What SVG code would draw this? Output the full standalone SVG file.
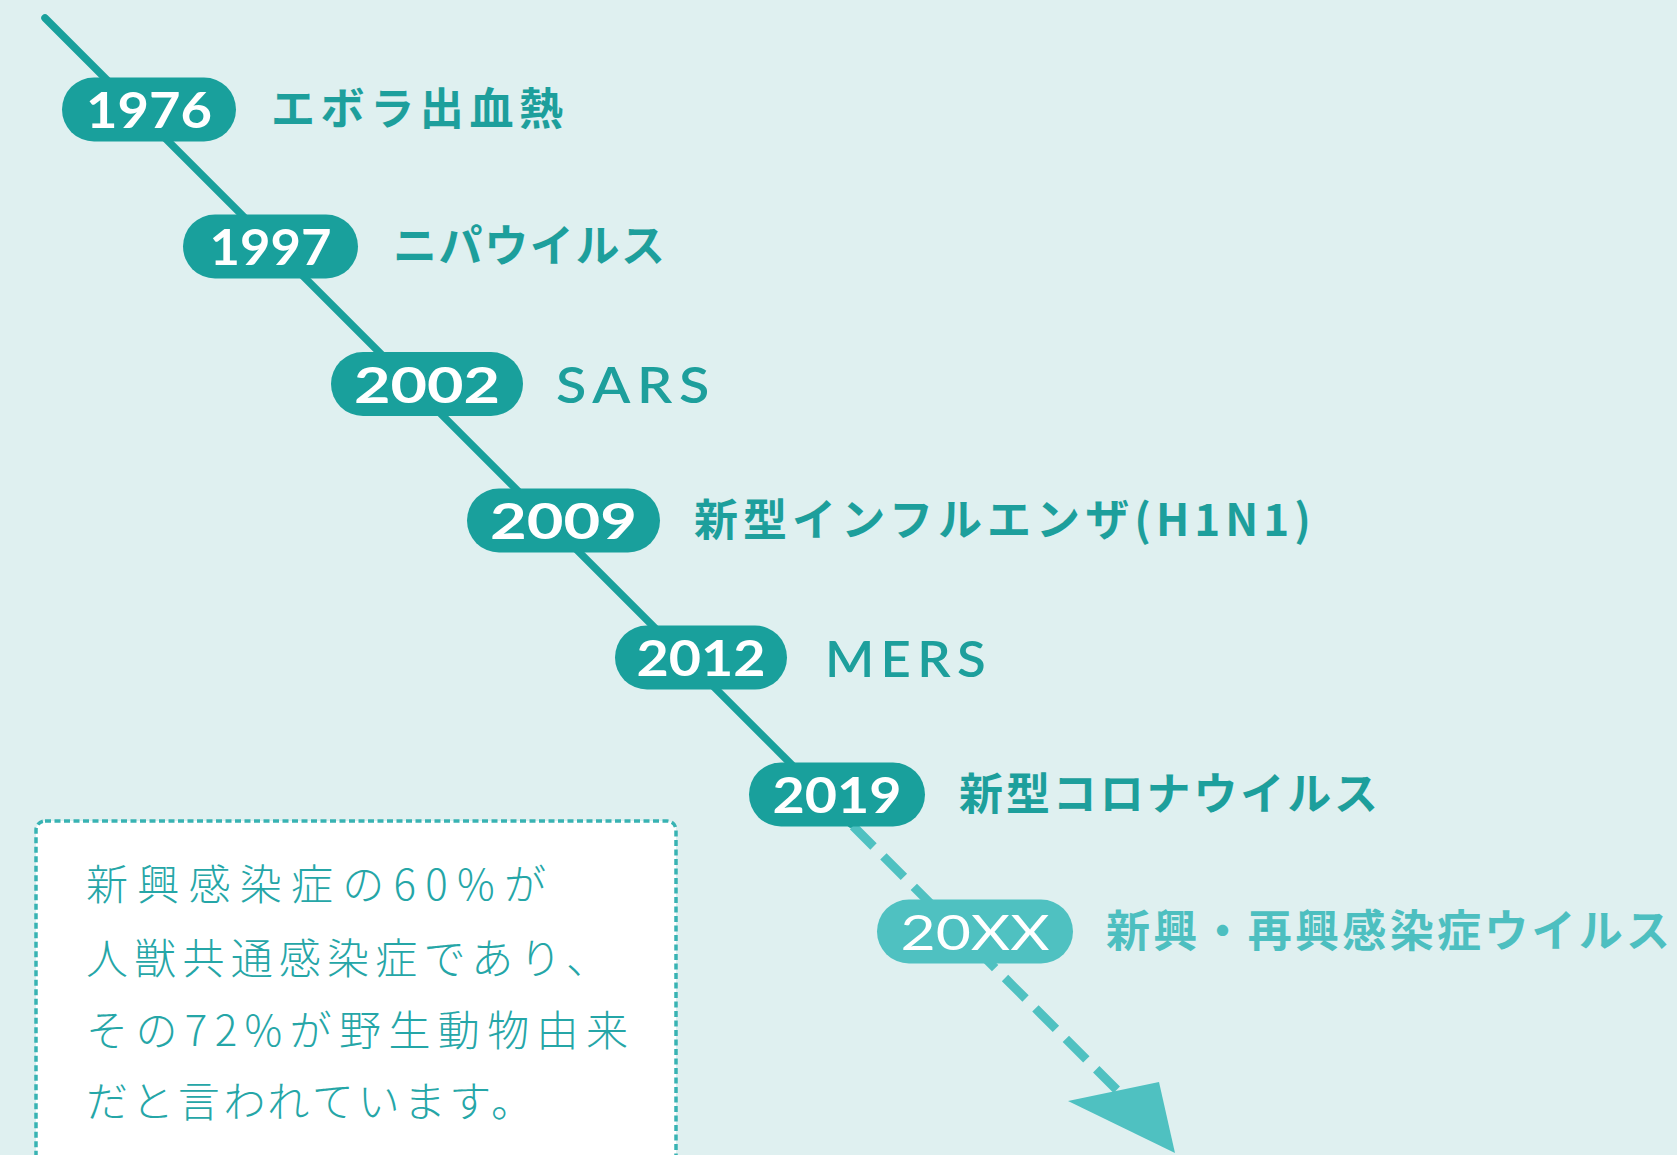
<svg xmlns="http://www.w3.org/2000/svg" width="1677" height="1155" viewBox="0 0 1677 1155">
  <style>
    .pill { fill: #19a09c; }
    .pill.future { fill: #4fc1c1; }
    .year { font-family: "Lato", "Inter", "Liberation Sans", sans-serif; font-weight: 700; font-size: 50px; fill: #ffffff; text-anchor: middle; }
    .year.future { font-weight: 400; font-size: 48px; }
    .label { font-family: "Noto Sans CJK JP", "Noto Sans", sans-serif; font-weight: 700; font-size: 44px; fill: #1d9f9c; }
    .label.latin { font-family: "Lato", "Inter", "Liberation Sans", sans-serif; font-weight: 600; font-size: 50px; letter-spacing: 6px; }
    .label.future { fill: #4dbfc0; }
    .note { font-family: "Noto Sans CJK JP", sans-serif; font-weight: 300; font-size: 42px; fill: #25a6a7; }
    .solid { stroke: #19a09c; stroke-width: 7.5; stroke-linecap: round; fill: none; }
    .dashed { stroke: #4fc1c1; stroke-width: 9; stroke-dasharray: 29 14; fill: none; }
  </style>
  <rect x="0" y="0" width="1677" height="1155" fill="#dff0f0"/>

  <g id="note">
    <rect x="36" y="821" width="640" height="360" rx="9" fill="#ffffff" stroke="#38b3b3" stroke-width="3.5" stroke-dasharray="6 3.5"/>
    <text class="note" x="86" y="900" textLength="460" lengthAdjust="spacing">新興感染症の60%が</text>
    <text class="note" x="86" y="974" textLength="522" lengthAdjust="spacing">人獣共通感染症であり、</text>
    <text class="note" x="86" y="1046" textLength="542" lengthAdjust="spacing">その72%が野生動物由来</text>
    <text class="note" x="86" y="1117" textLength="447" lengthAdjust="spacing">だと言われています。</text>
  </g>

  <g id="connectors">
    <line class="solid" x1="45" y1="18" x2="851" y2="824"/>
    <line class="dashed" x1="853" y1="826" x2="1140" y2="1113"/>
    <polygon points="1068,1101 1159,1082 1175,1153" fill="#4fc1c1"/>
  </g>

  <g id="node-1976">
    <rect class="pill" x="62" y="77.5" width="174" height="64" rx="32"/>
    <text class="year" x="149" y="128" textLength="126" lengthAdjust="spacingAndGlyphs">1976</text>
    <text class="label" x="271" y="125" textLength="292" lengthAdjust="spacing">エボラ出血熱</text>
  </g>

  <g id="node-1997">
    <rect class="pill" x="183" y="214.5" width="175" height="64" rx="32"/>
    <text class="year" x="270.5" y="265" textLength="122" lengthAdjust="spacingAndGlyphs">1997</text>
    <text class="label" x="393" y="262" textLength="272" lengthAdjust="spacing">ニパウイルス</text>
  </g>

  <g id="node-2002">
    <rect class="pill" x="331" y="352" width="192" height="64" rx="32"/>
    <text class="year" x="427" y="402.5" textLength="146" lengthAdjust="spacingAndGlyphs">2002</text>
    <text class="label latin" x="556" y="403" textLength="160" lengthAdjust="spacingAndGlyphs">SARS</text>
  </g>

  <g id="node-2009">
    <rect class="pill" x="467" y="488.5" width="193" height="64" rx="32"/>
    <text class="year" x="563.5" y="539" textLength="147" lengthAdjust="spacingAndGlyphs">2009</text>
    <text class="label" x="694" y="536" textLength="617" lengthAdjust="spacing">新型インフルエンザ(H1N1)</text>
  </g>

  <g id="node-2012">
    <rect class="pill" x="615" y="625.5" width="172" height="64" rx="32"/>
    <text class="year" x="701" y="676" textLength="129" lengthAdjust="spacingAndGlyphs">2012</text>
    <text class="label latin" x="825" y="677" textLength="167" lengthAdjust="spacingAndGlyphs">MERS</text>
  </g>

  <g id="node-2019">
    <rect class="pill" x="749" y="762.5" width="176" height="64" rx="32"/>
    <text class="year" x="837" y="813" textLength="129" lengthAdjust="spacingAndGlyphs">2019</text>
    <text class="label" x="959" y="810" textLength="419" lengthAdjust="spacing">新型コロナウイルス</text>
  </g>

  <g id="node-20XX">
    <rect class="pill future" x="877" y="899.5" width="196" height="64" rx="32"/>
    <text class="year future" x="975" y="950" textLength="149" lengthAdjust="spacingAndGlyphs">20XX</text>
    <text class="label future" x="1106" y="947" textLength="564" lengthAdjust="spacing">新興・再興感染症ウイルス</text>
  </g>
</svg>
